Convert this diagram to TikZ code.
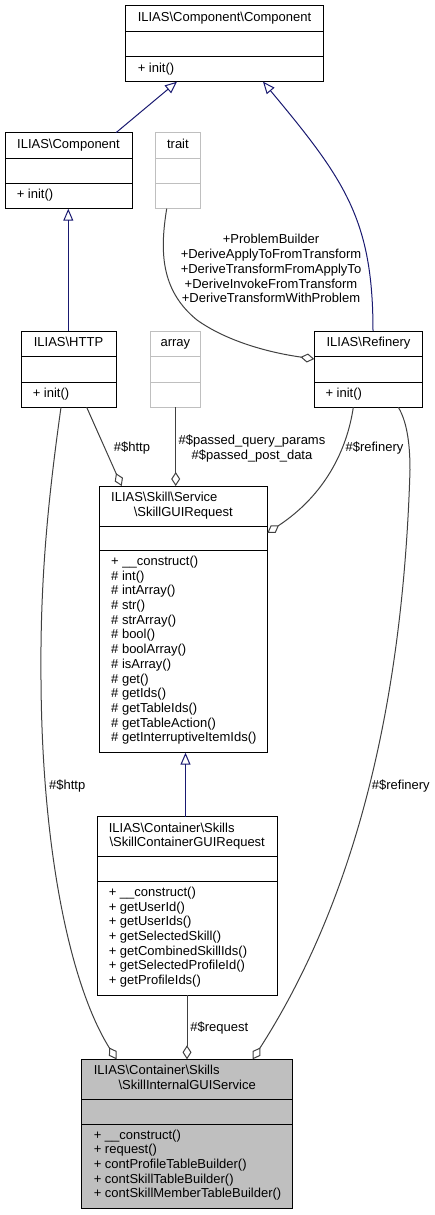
\documentclass[tikz,border=0pt]{standalone}
\usepackage{fontspec}
\setmainfont{Liberation Sans}
\usetikzlibrary{arrows.meta}

\definecolor{navyedge}{HTML}{191970}
\definecolor{greyedge}{HTML}{404040}
\definecolor{grey75}{HTML}{BFBFBF}

\newcommand{\dxfont}{\fontsize{13}{14.7}\selectfont}
\newcommand{\dxstrut}{\rule{0pt}{10.5pt}}
\newcommand{\bs}{\textbackslash}

\begin{document}
\begin{tikzpicture}[
	x=1pt,
	y=-1pt,
	font=\dxfont,
	line width=1pt,
%	rounded corners,
	inherit/.style={-{Triangle[open, length=12pt, width=10pt]}, navyedge},
	aggr/.style={-{Diamond[open, length=14pt, width=9pt]}, greyedge},
	cls/.style={draw, inner sep=0pt, outer sep=0pt, anchor=north west},
	ext/.style={cls, draw=grey75},
	focus/.style={cls, fill=grey75},
	cname/.style={inner sep=0pt, anchor=base},
	cleft/.style={inner sep=0pt, anchor=base west},
	members/.style={inner sep=0pt, anchor=north west, align=left, execute at begin node=\dxstrut},
	lbl/.style={inner sep=0pt, anchor=base},
	lbls/.style={inner sep=0pt, anchor=north, align=center, execute at begin node=\dxstrut}
]

\useasboundingbox (0,0) rectangle (435,1215);

% class boxes
 \node [cls,   minimum width=197.6pt, minimum height=76pt]    (cc)    at (125.7,5.7)    {};
 \node [cls,   minimum width=127pt,   minimum height=76pt]    (cmp)   at (5,132.7)      {};
 \node [ext,   minimum width=44.3pt,  minimum height=76pt]    (trait) at (155.7,132.7)  {};
 \node [cls,   minimum width=95pt,    minimum height=76.3pt]  (http)  at (21,331)       {};
 \node [ext,   minimum width=50.7pt,  minimum height=76.3pt]  (arr)   at (150,331)      {};
 \node [cls,   minimum width=108.4pt, minimum height=76.3pt]  (ref)   at (314.3,331)    {};
 \node [cls,   minimum width=168pt,   minimum height=266.7pt] (sgr)   at (99.3,486)     {};
 \node [cls,   minimum width=179.7pt, minimum height=178.6pt] (scgr)  at (97.3,816.7)   {};
 \node [focus, minimum width=211pt,   minimum height=149pt]   (sigs)  at (81.7,1059.3)  {};

% compartments
 \draw (cc.west |- 0,31.7)     -- (cc.east |- 0,31.7)     (cc.west |- 0,57)       -- (cc.east |- 0,57);
 \draw (cmp.west |- 0,158)     -- (cmp.east |- 0,158)     (cmp.west |- 0,183)     -- (cmp.east |- 0,183);
 \draw [grey75] (trait.west |- 0,158) -- (trait.east |- 0,158) (trait.west |- 0,183) -- (trait.east |- 0,183);
 \draw (http.west |- 0,356.7)  -- (http.east |- 0,356.7)  (http.west |- 0,382)    -- (http.east |- 0,382);
 \draw [grey75] (arr.west |- 0,356.7) -- (arr.east |- 0,356.7) (arr.west |- 0,382) -- (arr.east |- 0,382);
 \draw (ref.west |- 0,356.7)   -- (ref.east |- 0,356.7)   (ref.west |- 0,382)     -- (ref.east |- 0,382);
 \draw (sgr.west |- 0,526)     -- (sgr.east |- 0,526)     (sgr.west |- 0,550.7)   -- (sgr.east |- 0,550.7);
 \draw (scgr.west |- 0,856.7)  -- (scgr.east |- 0,856.7)  (scgr.west |- 0,881.7)  -- (scgr.east |- 0,881.7);
 \draw (sigs.west |- 0,1099.3) -- (sigs.east |- 0,1099.3) (sigs.west |- 0,1124.3) -- (sigs.east |- 0,1124.3);

% class texts
 \node [cname] (cc-t)    at (224.5,21.2)   {ILIAS\bs Component\bs Component};
 \node [cleft] (cc-m)    at (137.3,72.5)   {+ init()};
 \node [cname] (cmp-t)   at (68.5,148.2)   {ILIAS\bs Component};
 \node [cleft] (cmp-m)   at (16.3,198.5)   {+ init()};
 \node [cname] (trait-t) at (177.9,148.2)  {trait};
 \node [cname] (http-t)  at (68.5,346.3)   {ILIAS\bs HTTP};
 \node [cleft] (http-m)  at (32.3,397.3)   {+ init()};
 \node [cname] (arr-t)   at (175.4,346.3)  {array};
 \node [cname] (ref-t)   at (368.5,346.3)  {ILIAS\bs Refinery};
 \node [cleft] (ref-m)   at (325,397.3)    {+ init()};

 \node [cleft] (sgr-t)   at (110.7,501.3)  {ILIAS\bs Skill\bs Service};
 \node [cname] (sgr-u)   at (183.3,516)    {\bs SkillGUIRequest};
 \node [members] (sgr-m) at (110.7,555.5)  {+ \_\_construct()\\\# int()\\\# intArray()\\\# str()\\\# strArray()\\\# bool()\\\# boolArray()\\\# isArray()\\\# get()\\\# getIds()\\\# getTableIds()\\\# getTableAction()\\\# getInterruptiveItemIds()};

 \node [cleft] (scgr-t)  at (108.3,832)    {ILIAS\bs Container\bs Skills};
 \node [cname] (scgr-u)  at (187.2,846.7)  {\bs SkillContainerGUIRequest};
 \node [members] (scgr-m) at (108.3,886.5) {+ \_\_construct()\\+ getUserId()\\+ getUserIds()\\+ getSelectedSkill()\\+ getCombinedSkillIds()\\+ getSelectedProfileId()\\+ getProfileIds()};

 \node [cleft] (sigs-t)  at (93.3,1074.6)  {ILIAS\bs Container\bs Skills};
 \node [cname] (sigs-u)  at (187.2,1089.3) {\bs SkillInternalGUIService};
 \node [members] (sigs-m) at (93.3,1129.1) {+ \_\_construct()\\+ request()\\+ contProfileTableBuilder()\\+ contSkillTableBuilder()\\+ contSkillMemberTableBuilder()};

% inheritance
 \draw [inherit] ([xshift=111pt]cmp.north west)   -- ([xshift=51.3pt]cc.south west);
 \draw [inherit] ([xshift=58.7pt]ref.north west)  .. controls (373,220) and (345,180) .. ([xshift=137.3pt]cc.south west);
 \draw [inherit] ([xshift=47.3pt]http.north west) -- ([xshift=63.3pt]cmp.south west);
 \draw [inherit] ([xshift=88.2pt]scgr.north west) -- ([xshift=86.2pt]sgr.south west);

% aggregation
 \draw [aggr] ([xshift=11pt]trait.south west) .. controls (160,250) and (160,290) .. (197,320)
                                               .. controls (225,340) and (265,352) .. ([yshift=-28pt]ref.north west);
 \draw [aggr] ([xshift=65.7pt]http.south west) -- ([xshift=22.4pt]sgr.north west);
 \draw [aggr] ([xshift=25.7pt]arr.south west)  -- ([xshift=76.4pt]sgr.north west);
 \draw [aggr] ([xshift=39pt]ref.south west)    .. controls (347,450) and (325,495) .. ([yshift=-47pt]sgr.north east);
 \draw [aggr] ([xshift=89.7pt]scgr.south west) -- ([xshift=105.3pt]sigs.north west);
 \draw [aggr] ([xshift=40pt]http.south west)   .. controls (48,500) and (40,580) .. (41,680)
                                                .. controls (42,850) and (70,985) .. ([xshift=34.8pt]sigs.north west);
 \draw [aggr] ([xshift=84pt]ref.south west)    .. controls (406,420) and (410,440) .. (410,470)
                                                .. controls (402.5,720) and (349,909.3) .. ([xshift=171pt]sigs.north west);

% edge labels
 \node [lbls] (l-trait)  at (271,234)    {+ProblemBuilder\\+DeriveApplyToFromTransform\\+DeriveTransformFromApplyTo\\+DeriveInvokeFromTransform\\+DeriveTransformWithProblem};
 \node [lbls] (l-arr)    at (252,434.5)  {\#\$passed\_query\_params\\\#\$passed\_post\_data};
 \node [lbl]  (l-http)   at (132,451)    {\#\$http};
 \node [lbl]  (l-ref)    at (374.5,451)  {\#\$refinery};
 \node [lbl]  (l-http2)  at (67.2,789)   {\#\$http};
 \node [lbl]  (l-ref2)   at (400.8,789)  {\#\$refinery};
 \node [lbl]  (l-req)    at (219.3,1031.5) {\#\$request};

\end{tikzpicture}
\end{document}
